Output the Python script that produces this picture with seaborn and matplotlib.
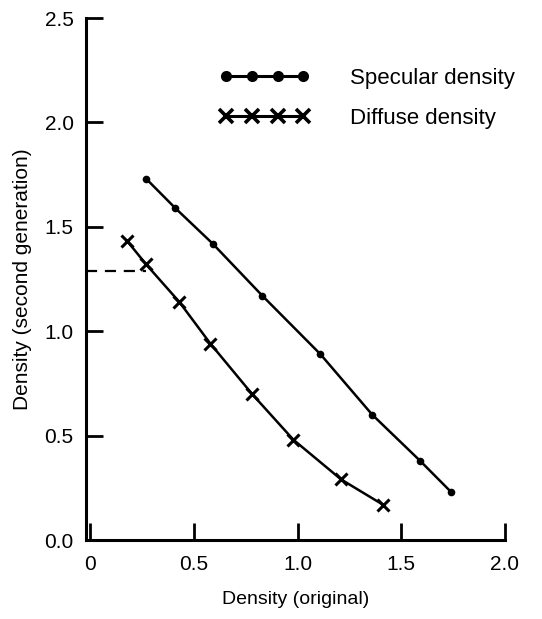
import matplotlib
matplotlib.use("Agg")
import matplotlib.pyplot as plt
import seaborn as sns
import pandas as pd

# Data
specular_x = [0.27, 0.41, 0.59, 0.83, 1.11, 1.36, 1.59, 1.74]
specular_y = [1.73, 1.59, 1.42, 1.17, 0.89, 0.60, 0.38, 0.23]
diffuse_x = [0.18, 0.27, 0.43, 0.58, 0.78, 0.98, 1.21, 1.41]
diffuse_y = [1.43, 1.32, 1.14, 0.94, 0.70, 0.48, 0.29, 0.17]
series_labels = ["Specular density", "Diffuse density"]
dash_level = 1.29
dash_x = [-0.02, 0.27]
x_ticks = [0, 0.5, 1.0, 1.5, 2.0]
x_tick_labels = ["0", "0.5", "1.0", "1.5", "2.0"]
y_ticks = [0.0, 0.5, 1.0, 1.5, 2.0, 2.5]
y_tick_labels = ["0.0", "0.5", "1.0", "1.5", "2.0", "2.5"]

sns.set_style("ticks")
plt.rcParams['font.family'] = ['Liberation Sans', 'DejaVu Sans']
plt.rcParams['text.color'] = 'black'
plt.rcParams['axes.labelcolor'] = 'black'

fig = plt.figure(figsize=(5.42, 6.19), dpi=100)
ax = fig.add_axes([86/542, 79/619, (505-86)/542, (540-18)/619])

spec = pd.DataFrame({"x": specular_x, "y": specular_y})
diff = pd.DataFrame({"x": diffuse_x, "y": diffuse_y})

sns.lineplot(data=spec, x="x", y="y", ax=ax, color="black", lw=1.8,
             marker="o", markersize=5.5, markeredgewidth=0,
             markeredgecolor="black", sort=False,
             label=series_labels[0])
sns.lineplot(data=diff, x="x", y="y", ax=ax, color="black", lw=1.8,
             marker="x", markersize=9, markeredgewidth=2.2,
             markeredgecolor="black", sort=False,
             label=series_labels[1])

ax.plot(dash_x, [dash_level, dash_level], color="black", lw=1.6,
        linestyle=(0, (5, 3.5)))

ax.set_xlim(-0.02, 2.0)
ax.set_ylim(0, 2.5)
ax.set_xticks(x_ticks)
ax.set_xticklabels(x_tick_labels)
ax.set_yticks(y_ticks)
ax.set_yticklabels(y_tick_labels)
ax.tick_params(direction="in", length=12, width=2, labelsize=15,
               colors="black")
ax.tick_params(axis="x", pad=11)
ax.tick_params(axis="y", pad=9)
for s in ["top", "right"]:
    ax.spines[s].set_visible(False)
for s in ["left", "bottom"]:
    ax.spines[s].set_linewidth(2.2)
    ax.spines[s].set_color("black")

ax.set_xlabel("Density (original)", fontsize=14, labelpad=12)
ax.set_ylabel("Density (second generation)", fontsize=15, labelpad=9)

leg = ax.legend(numpoints=4, frameon=False, fontsize=16,
                loc="upper left", bbox_to_anchor=(219/542, 1 - 68/619),
                bbox_transform=fig.transFigure, borderpad=0,
                borderaxespad=0, handlelength=4.1, handletextpad=1.8,
                labelspacing=0.85)
for txt in leg.get_texts():
    txt.set_color("black")
handles = leg.legend_handles
handles[0].set_markersize(8)
handles[0].set_linewidth(2.2)
handles[1].set_markersize(10)
handles[1].set_markeredgewidth(2.6)
handles[1].set_linewidth(2.2)

fig.savefig("out.png", dpi=100)
